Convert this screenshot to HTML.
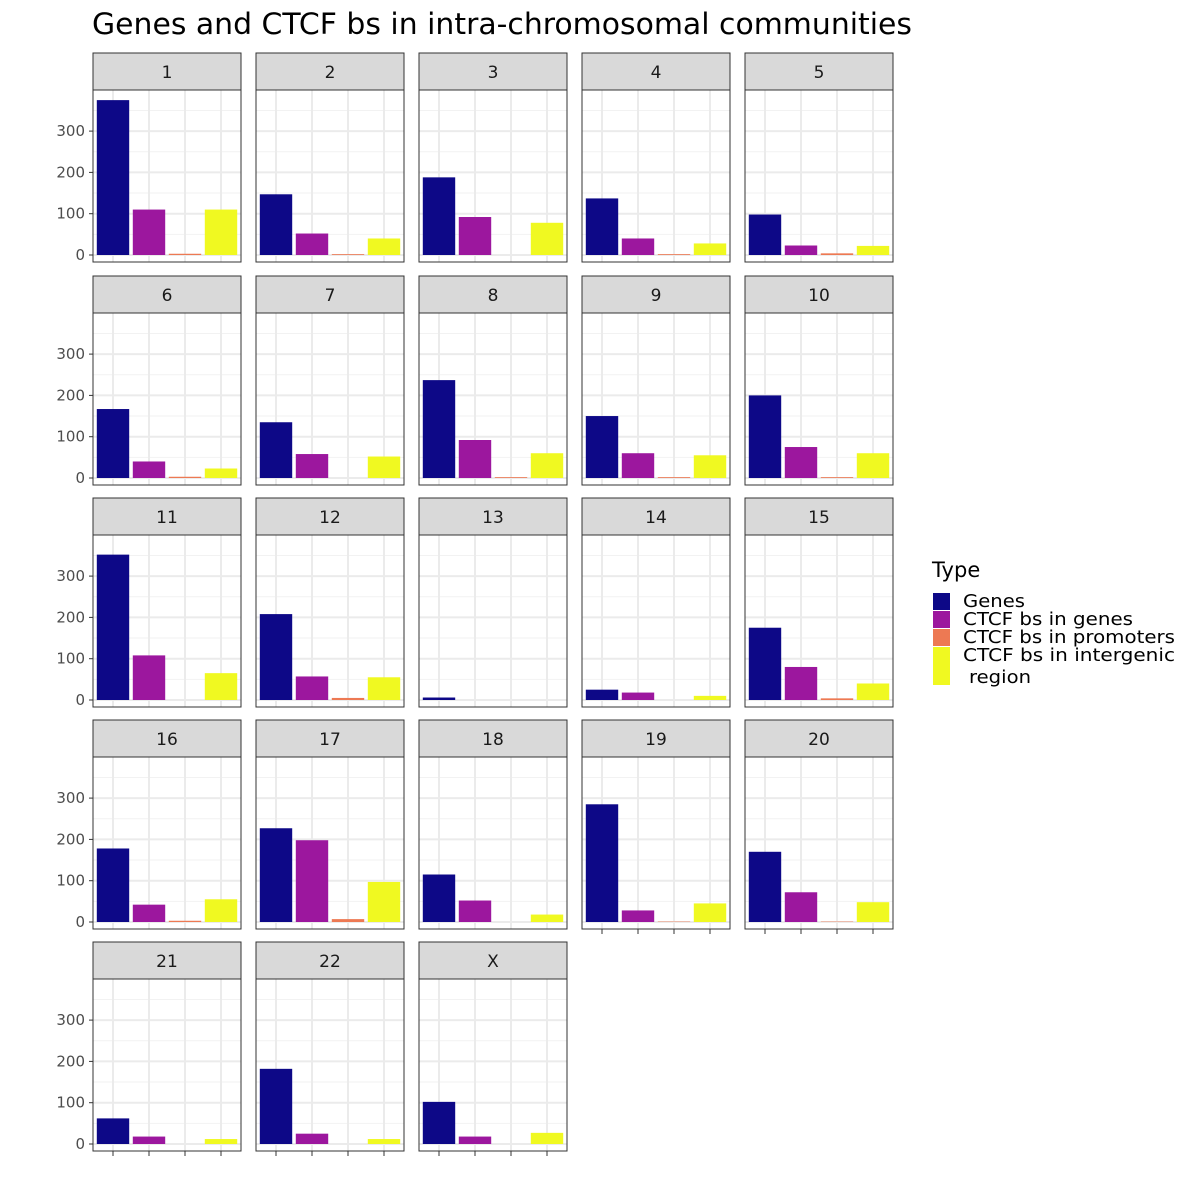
<!DOCTYPE html>
<html><head><meta charset="utf-8"><style>body{margin:0;background:#fff}svg{display:block}text{font-family:"DejaVu Sans","Liberation Sans",sans-serif}</style></head>
<body>
<svg id="c" width="1200" height="1200"></svg>
<script>
const panels=["1","2","3","4","5","6","7","8","9","10","11","12","13","14","15","16","17","18","19","20","21","22","X"];
const genes=[375,147,188,137,98,167,135,237,150,200,352,208,6,25,175,178,227,115,285,170,62,182,102];
const ctcfGenes=[110,52,92,40,23,40,58,92,60,75,108,57,0,18,80,42,198,52,28,72,18,25,18];
const ctcfProm=[3,2,0,2,4,3,0,2,2,2,0,5,0,0,4,3,7,0,1,1,0,0,0];
const ctcfInter=[110,40,78,28,22,23,52,60,55,60,65,55,0,10,40,55,97,18,45,48,12,12,27];
const types=["Genes","CTCF bs in genes","CTCF bs in promoters","CTCF bs in intergenic region"];
const colors=["#0D0887","#9C179E","#ED7953","#F0F921"];
const yTicks=[0,100,200,300];
const NS="http://www.w3.org/2000/svg";
const svg=document.getElementById('c');
function mk(t,a,p){const e=document.createElementNS(NS,t);for(const k in a)e.setAttribute(k,a[k]);(p||svg).appendChild(e);return e;}
const t=mk('text',{x:92,y:34,'font-size':29,fill:'#000',textLength:820,lengthAdjust:'spacingAndGlyphs'});t.textContent="Genes and CTCF bs in intra-chromosomal communities";


const colX=[93,256,419,582,745],rowY=[53,276,498,720,942],PW=148,SH=37,PH=172;
const series=[genes,ctcfGenes,ctcfProm,ctcfInter];
panels.forEach((p,i)=>{
 const c=i%5,r=Math.floor(i/5),x0=colX[c],y0=rowY[r];
 const g=mk('g',{});
 
 
 const st=mk('rect',{x:x0,y:y0,width:PW,height:SH,fill:'#D9D9D9',stroke:'#333','stroke-width':1},g);
 
 
 const sl=mk('text',{x:x0+PW/2,y:y0+25,'font-size':17,'text-anchor':'middle',fill:'#1a1a1a'},g);sl.textContent=p;
 
 
 const py=y0+SH,base=py+165;
 const ys=v=>base-v*0.413;
 mk('rect',{x:x0,y:py,width:PW,height:PH,fill:'#fff'},g);
 [50,150,250,350].forEach(v=>mk('line',{x1:x0,x2:x0+PW,y1:ys(v),y2:ys(v),stroke:'#F2F2F2','stroke-width':1},g));
 yTicks.forEach(v=>mk('line',{x1:x0,x2:x0+PW,y1:ys(v),y2:ys(v),stroke:'#EBEBEB','stroke-width':2},g));
 const xc=k=>x0+20+k*36;
 for(let k=0;k<4;k++)mk('line',{x1:xc(k),x2:xc(k),y1:py,y2:py+PH,stroke:'#EBEBEB','stroke-width':2},g);
 series.forEach((s,k)=>{const v=s[i];const b=mk('rect',{x:xc(k)-16.2,y:ys(v),width:32.4,height:v*0.413,fill:colors[k]},g);
  
  });
 mk('rect',{x:x0,y:py,width:PW,height:PH,fill:'none',stroke:'#333','stroke-width':1},g);
 if(c===0){yTicks.forEach(v=>{mk('line',{x1:x0-4,x2:x0,y1:ys(v),y2:ys(v),stroke:'#333'},g);
  const tl=mk('text',{x:x0-8,y:ys(v)+5,'font-size':15,'text-anchor':'end',fill:'#4D4D4D'},g);tl.textContent=v;
  
  });}
 const bottom=(r===4)||(r===3&&c>=3);
 if(bottom)for(let k=0;k<4;k++)mk('line',{x1:xc(k),x2:xc(k),y1:py+PH,y2:py+PH+5,stroke:'#333'},g);
});
const lg=mk('g',{});


const lt=mk('text',{x:932,y:577,'font-size':21,fill:'#000'},lg);lt.textContent="Type";
const ky=[593,611,629,647],kh=[17,17,17,38];
colors.forEach((col,k)=>{const r=mk('rect',{x:933,y:ky[k],width:17,height:kh[k],fill:col},lg);
 
 });
const labs=["Genes","CTCF bs in genes","CTCF bs in promoters","CTCF bs in intergenic"];
const lw=[62,170,212,212];
labs.forEach((l,k)=>{const tx=mk('text',{x:963,y:ky[k]+14,'font-size':18,fill:'#000',textLength:lw[k],lengthAdjust:'spacingAndGlyphs'},lg);tx.textContent=l;
 
 });
const t2=mk('text',{x:969,y:683,'font-size':18,fill:'#000',textLength:62,lengthAdjust:'spacingAndGlyphs'},lg);t2.textContent="region";


</script>
</body></html>
